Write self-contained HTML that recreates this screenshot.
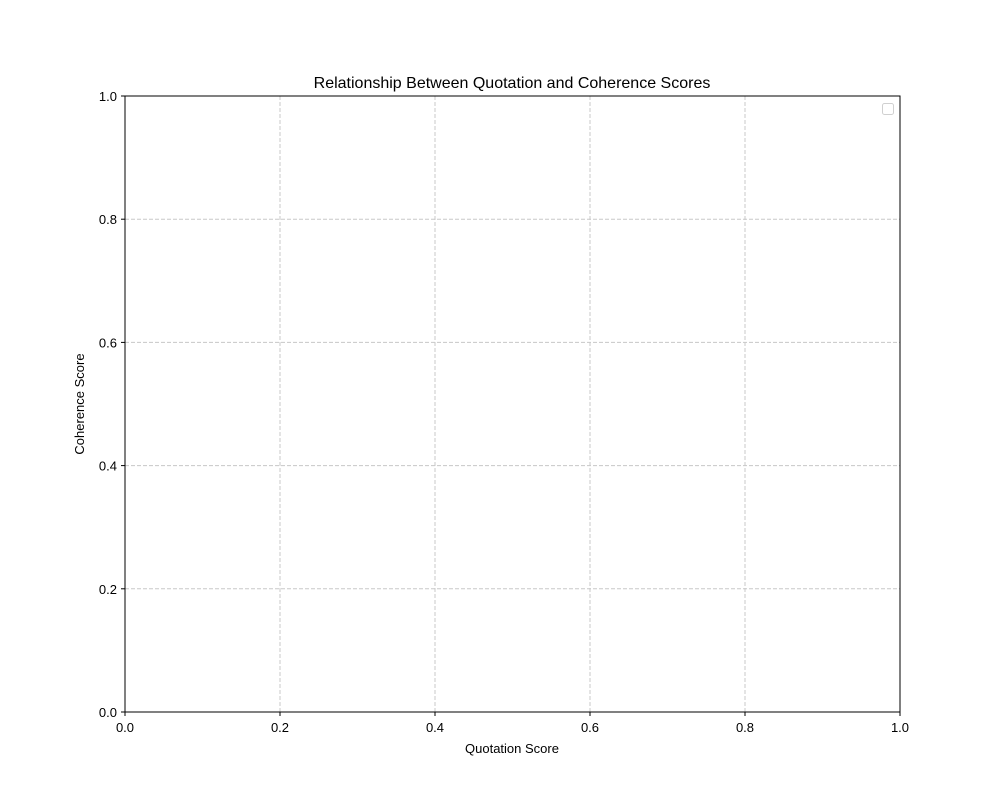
<!DOCTYPE html>
<html>
<head>
<meta charset="utf-8">
<style>
  html,body{margin:0;padding:0;background:#fff;}
  svg{display:block;font-family:"Liberation Sans","DejaVu Sans",sans-serif;}
</style>
</head>
<body>
<svg id="chart" width="1000" height="800" viewBox="0 0 1000 800">
  <rect x="0" y="0" width="1000" height="800" fill="#fff"/>
  <g id="grid"></g>
  <g id="xticks"></g>
  <g id="yticks"></g>
  <rect x="125" y="96" width="775" height="616" fill="none" stroke="#000" stroke-width="1"/>
  <text x="512" y="88" text-anchor="middle" font-size="16" fill="#000">Relationship Between Quotation and Coherence Scores</text>
  <text x="512" y="753" text-anchor="middle" font-size="13" fill="#000">Quotation Score</text>
  <text x="84" y="404" text-anchor="middle" font-size="13" fill="#000" transform="rotate(-90 84 404)">Coherence Score</text>
  <rect x="882.5" y="103.5" width="11" height="11" rx="2" fill="#fff" stroke="#d0d0d0" stroke-width="1"/>
</svg>
<script>
const xTickValues = [0, 0.2, 0.4, 0.6, 0.8, 1.0];
const yTickValues = [0, 0.2, 0.4, 0.6, 0.8, 1.0];
const xTickLabels = ["0.0","0.2","0.4","0.6","0.8","1.0"];
const yTickLabels = ["0.0","0.2","0.4","0.6","0.8","1.0"];
const quotationScores = [];
const coherenceScores = [];

const X0=125, X1=900, Y0=712, Y1=96;
function xs(v){return X0+(X1-X0)*v;}
function ys(v){return Y0-(Y0-Y1)*v;}
const NS="http://www.w3.org/2000/svg";
const grid=document.getElementById('grid');
const gx=document.getElementById('xticks');
const gy=document.getElementById('yticks');

xTickValues.forEach((v,i)=>{
  const x=xs(v);
  if(v>0&&v<1){
    const l=document.createElementNS(NS,'line');
    l.setAttribute('x1',x);l.setAttribute('x2',x);l.setAttribute('y1',Y1);l.setAttribute('y2',Y0);
    l.setAttribute('stroke','#c8c8c8');l.setAttribute('stroke-dasharray','4,2');
    
    
    grid.appendChild(l);
  }
  const t=document.createElementNS(NS,'line');
  t.setAttribute('x1',x);t.setAttribute('x2',x);t.setAttribute('y1',Y0);t.setAttribute('y2',Y0+4);
  t.setAttribute('stroke','#000');
  
  
  gx.appendChild(t);
  const tx=document.createElementNS(NS,'text');
  tx.setAttribute('x',x);tx.setAttribute('y',Y0+20);tx.setAttribute('text-anchor','middle');tx.setAttribute('font-size','13');
  tx.textContent=xTickLabels[i];
  
  
  gx.appendChild(tx);
});
yTickValues.forEach((v,i)=>{
  const y=ys(v);
  if(v>0&&v<1){
    const l=document.createElementNS(NS,'line');
    l.setAttribute('x1',X0);l.setAttribute('x2',X1);l.setAttribute('y1',y);l.setAttribute('y2',y);
    l.setAttribute('stroke','#c8c8c8');l.setAttribute('stroke-dasharray','4,2');
    
    
    grid.appendChild(l);
  }
  const t=document.createElementNS(NS,'line');
  t.setAttribute('x1',X0-4);t.setAttribute('x2',X0);t.setAttribute('y1',y);t.setAttribute('y2',y);
  t.setAttribute('stroke','#000');
  
  
  gy.appendChild(t);
  const tx=document.createElementNS(NS,'text');
  tx.setAttribute('x',X0-8);tx.setAttribute('y',y+5);tx.setAttribute('text-anchor','end');tx.setAttribute('font-size','13');
  tx.textContent=yTickLabels[i];
  
  
  gy.appendChild(tx);
});
const svg=document.getElementById('chart');
quotationScores.forEach((q,i)=>{
  const c=document.createElementNS(NS,'circle');
  c.setAttribute('cx',xs(q));c.setAttribute('cy',ys(coherenceScores[i]));c.setAttribute('r',4);c.setAttribute('fill','#1f77b4');
  
  
  svg.appendChild(c);
});
</script>
</body>
</html>
